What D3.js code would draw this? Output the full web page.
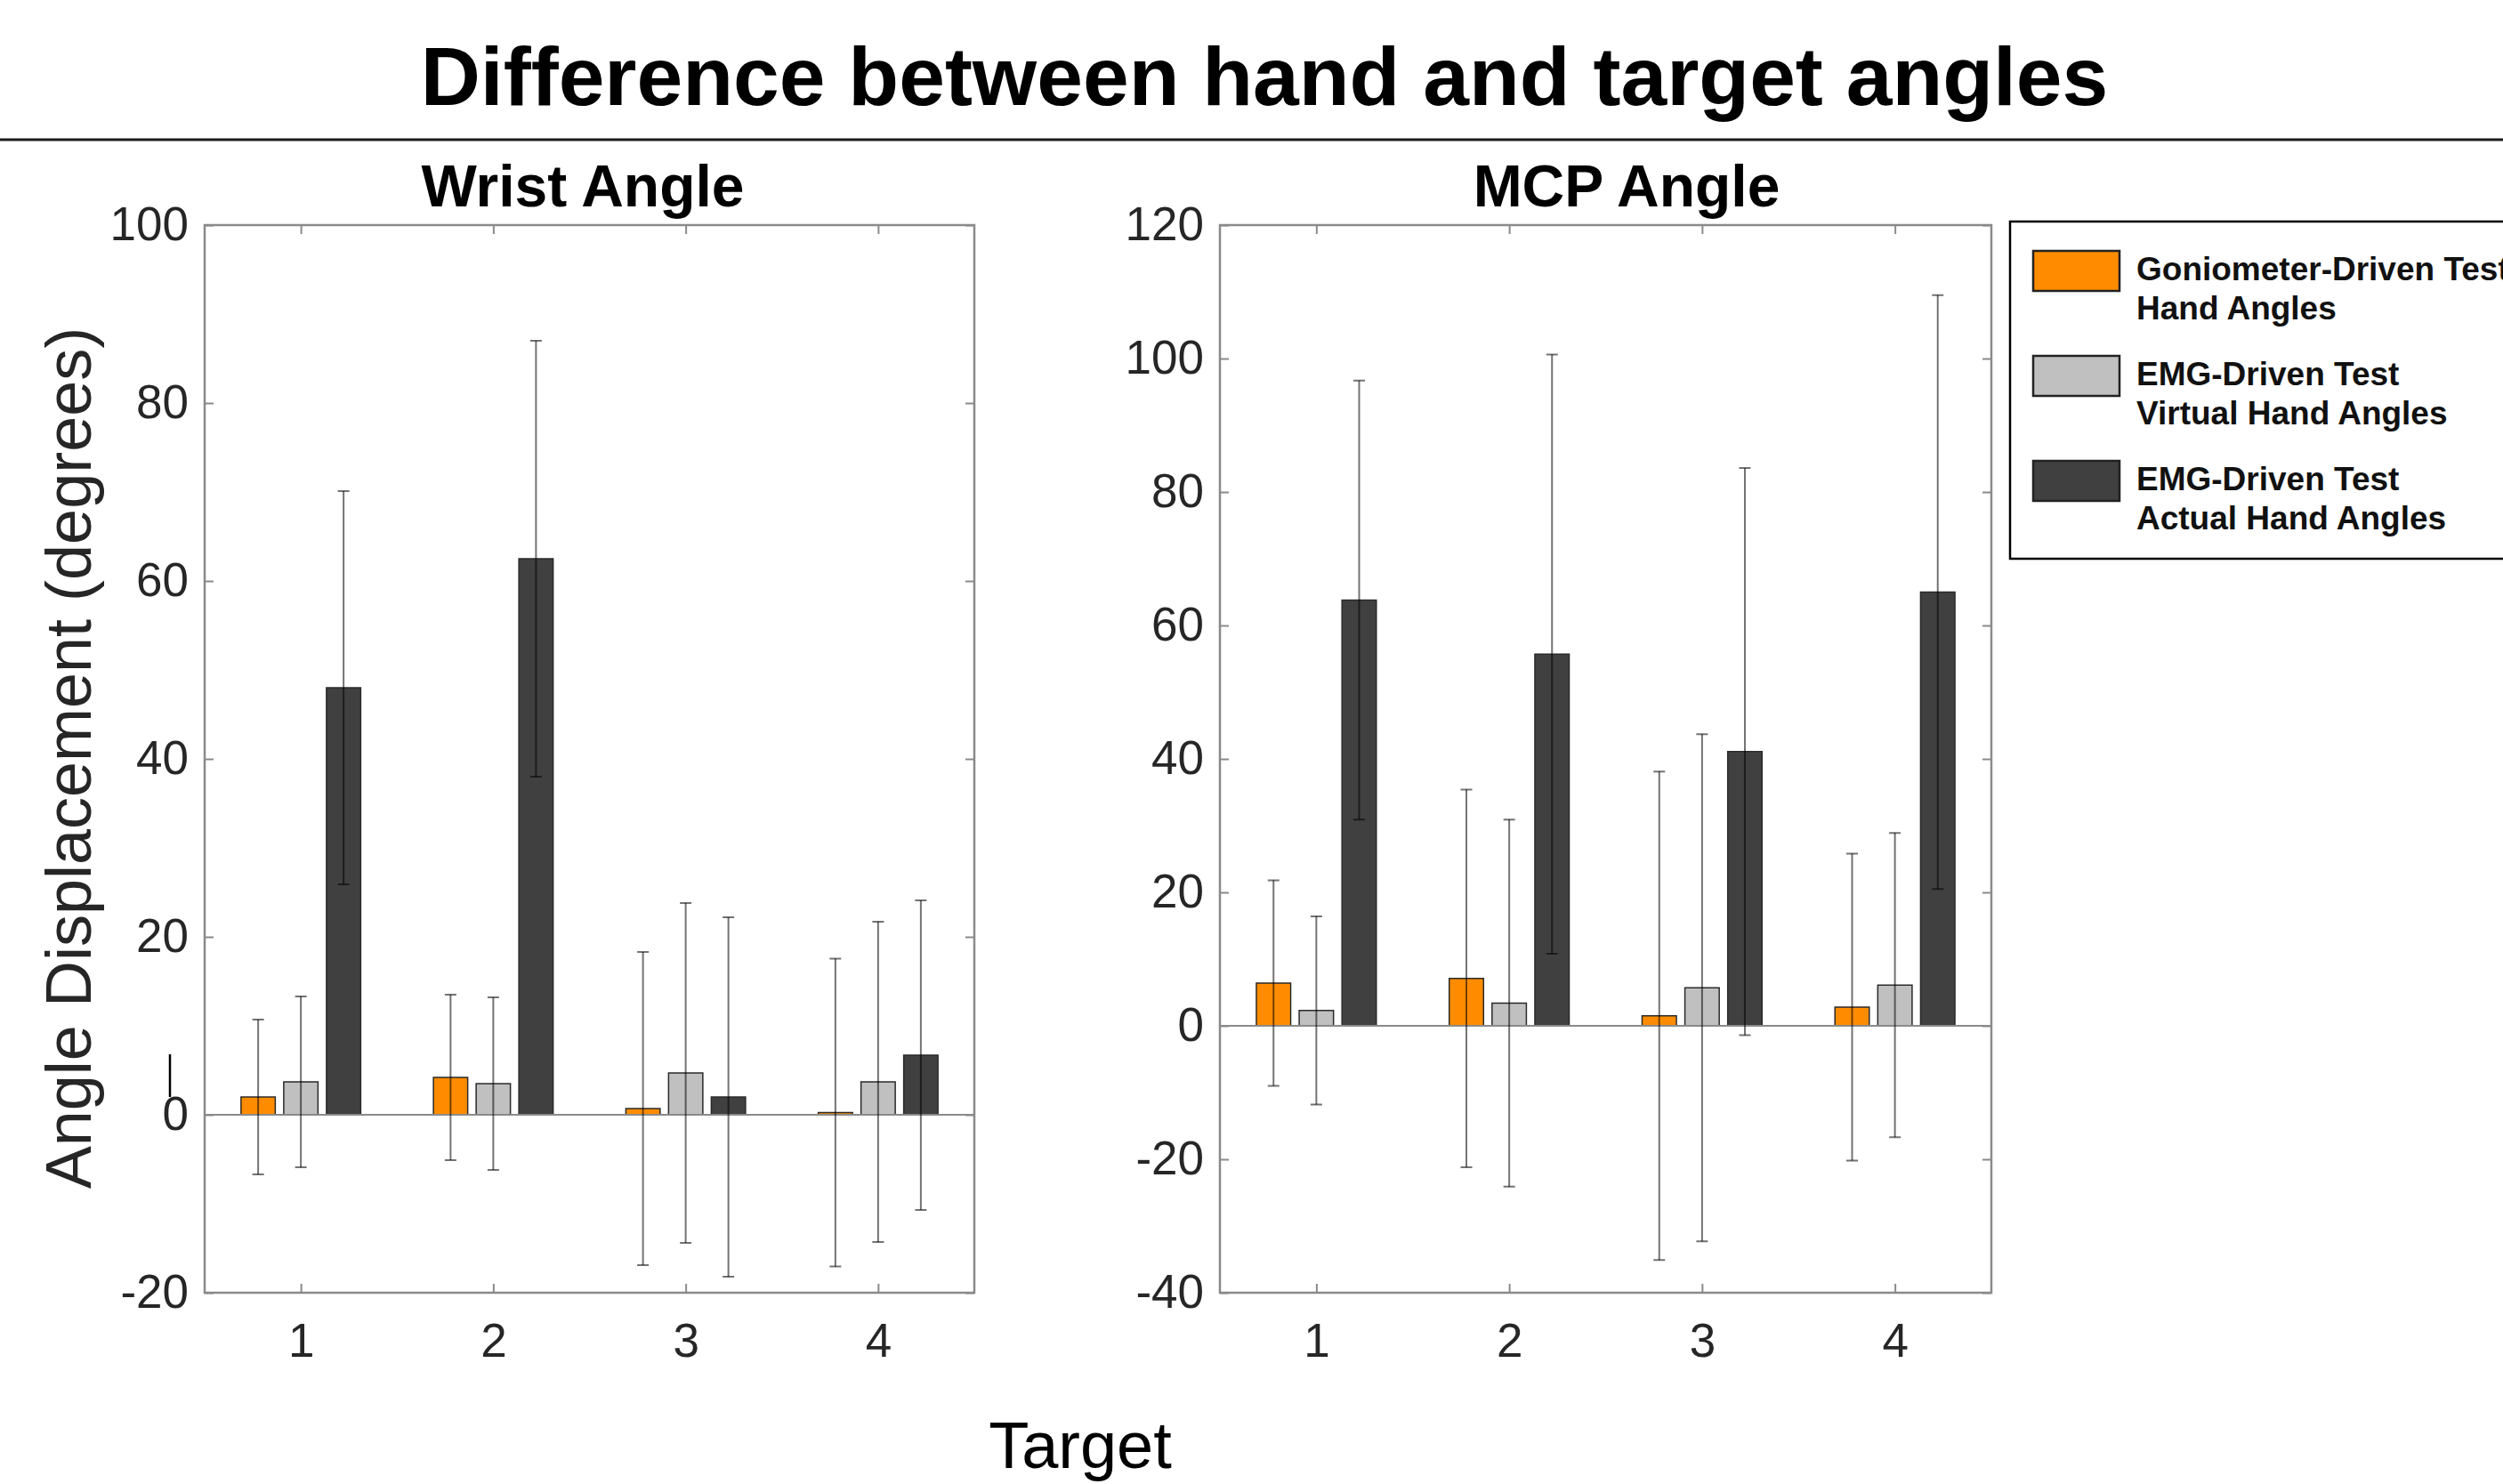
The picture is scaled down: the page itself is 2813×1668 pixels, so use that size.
<!DOCTYPE html>
<html>
<head>
<meta charset="utf-8">
<script src="https://cdn.jsdelivr.net/npm/d3@7"></script>
<style>
	body { margin: 0; background: #fff; }
	text { font-family: "Liberation Sans", Arial, Helvetica, sans-serif; }
</style>
</head>
<body>
<div id="chart"></div>
<script>
// ---- data ---- //
var targets = [1, 2, 3, 4];

var legendLines = [
	["Goniometer-Driven Test", "Hand Angles"],
	["EMG-Driven Test", "Virtual Hand Angles"],
	["EMG-Driven Test", "Actual Hand Angles"]
];

// wrist angle: mean and sd per target
var wristGonio = [2.0, 4.2, 0.7, 0.25];
var wristGonioSd = [8.7, 9.3, 17.6, 17.3];
var wristVirtual = [3.7, 3.5, 4.7, 3.7];
var wristVirtualSd = [9.6, 9.7, 19.1, 18.0];
var wristActual = [48.0, 62.5, 2.0, 6.7];
var wristActualSd = [22.1, 24.5, 20.2, 17.4];

// mcp angle: mean and sd per target
var mcpGonio = [6.4, 7.1, 1.5, 2.8];
var mcpGonioSd = [15.4, 28.3, 36.6, 23.0];
var mcpVirtual = [2.3, 3.4, 5.7, 6.1];
var mcpVirtualSd = [14.1, 27.5, 38.0, 22.8];
var mcpActual = [63.8, 55.7, 41.1, 65.0];
var mcpActualSd = [32.9, 44.9, 42.5, 44.5];

var wristTicks = [-20, 0, 20, 40, 60, 80, 100];
var mcpTicks = [-40, -20, 0, 20, 40, 60, 80, 100, 120];

// ---- style ---- //
var barColors = ["#ff8c00", "#c0c0c0", "#404040"];
var axisColor = "#8a8a8a";
var textColor = "#262626";

var width = 2813, height = 1668;
var plotTop = 253, plotBottom = 1453;

// MATLAB grouped bars: 3 bars, offsets +-0.222, width 0.178 (in x units)
var groupOffset = 0.222, barWidth = 0.178;

// plain "-20" with a hyphen, like MATLAB
var plainFormat = function(d){ return String(d); };

var svg = d3.select("#chart").append("svg")
		.attr("width", width)
		.attr("height", height);

// main title and the rule under it
svg.append("text")
	.attr("x", 1421)
	.attr("y", 118)
	.attr("text-anchor", "middle")
	.style("font-size", "93px")
	.style("font-weight", "bold")
	.attr("fill", "#000")
	.text("Difference between hand and target angles");

svg.append("line")
	.attr("x1", 0).attr("x2", width)
	.attr("y1", 157).attr("y2", 157)
	.attr("stroke", "#1a1a1a")
	.attr("stroke-width", 3);

function drawPanel(p){
	var x = d3.scaleLinear().domain([0.5, 4.5]).range([p.left, p.right]);
	var y = d3.scaleLinear().domain([p.ticks[0], p.ticks[p.ticks.length - 1]]).range([plotBottom, plotTop]);

	var g = svg.append("g");

	// panel title
	g.append("text")
		.attr("x", p.titleX)
		.attr("y", 232)
		.attr("text-anchor", "middle")
		.style("font-size", "66px")
		.style("font-weight", "bold")
		.attr("fill", "#000")
		.text(p.title);

	// bars
	p.means.forEach(function(series, s){
		var off = (s - 1) * groupOffset;
		g.append("g").selectAll("rect")
			.data(series)
			.join("rect")
				.attr("x", function(d, i){ return x(targets[i] + off - barWidth / 2); })
				.attr("width", x(barWidth) - x(0))
				.attr("y", function(d){ return y(Math.max(d, 0)); })
				.attr("height", function(d){ return Math.abs(y(d) - y(0)); })
				.attr("fill", barColors[s])
				.attr("stroke", "#2a2a2a")
				.attr("stroke-width", 1.5);
	});

	// zero baseline
	g.append("line")
		.attr("x1", p.left).attr("x2", p.right)
		.attr("y1", y(0)).attr("y2", y(0))
		.attr("stroke", axisColor)
		.attr("stroke-width", 2);

	// error bars (semi transparent black, darker over the dark bars)
	p.means.forEach(function(series, s){
		var off = (s - 1) * groupOffset;
		var eg = g.append("g")
			.attr("stroke", "#000")
			.attr("stroke-opacity", 0.55)
			.attr("stroke-width", 2);
		series.forEach(function(m, i){
			var sd = p.sds[s][i];
			var cx = x(targets[i] + off);
			eg.append("line")
				.attr("x1", cx).attr("x2", cx)
				.attr("y1", y(m - sd)).attr("y2", y(m + sd));
			[m - sd, m + sd].forEach(function(v){
				eg.append("line")
					.attr("x1", cx - 6.5).attr("x2", cx + 6.5)
					.attr("y1", y(v)).attr("y2", y(v));
			});
		});
	});

	// axes, ticks inside on all four sides
	var left = g.append("g")
		.attr("transform", "translate(" + p.left + ",0)")
		.call(d3.axisLeft(y).tickValues(p.ticks).tickFormat(plainFormat)
			.tickSizeInner(-10).tickSizeOuter(0).tickPadding(18));
	var right = g.append("g")
		.attr("transform", "translate(" + p.right + ",0)")
		.call(d3.axisRight(y).tickValues(p.ticks).tickSizeInner(-10).tickSizeOuter(0).tickFormat(""));
	var bottom = g.append("g")
		.attr("transform", "translate(0," + plotBottom + ")")
		.call(d3.axisBottom(x).tickValues(targets).tickFormat(plainFormat)
			.tickSizeInner(-10).tickSizeOuter(0).tickPadding(34));
	var top = g.append("g")
		.attr("transform", "translate(0," + plotTop + ")")
		.call(d3.axisTop(x).tickValues(targets).tickSizeInner(-10).tickSizeOuter(0).tickFormat(""));

	[left, right, bottom, top].forEach(function(a){
		a.select(".domain").remove();
		a.selectAll(".tick line").attr("stroke", axisColor).attr("stroke-width", 2);
		a.selectAll(".tick text")
			.attr("fill", textColor)
			.style("font-size", "53px");
	});

	// box
	g.append("rect")
		.attr("x", p.left).attr("y", plotTop)
		.attr("width", p.right - p.left)
		.attr("height", plotBottom - plotTop)
		.attr("fill", "none")
		.attr("stroke", axisColor)
		.attr("stroke-width", 2.5);

	return y;
}

var wristY = drawPanel({
	title: "Wrist Angle", titleX: 655,
	left: 230, right: 1095,
	ticks: wristTicks,
	means: [wristGonio, wristVirtual, wristActual],
	sds: [wristGonioSd, wristVirtualSd, wristActualSd]
});

drawPanel({
	title: "MCP Angle", titleX: 1828,
	left: 1371, right: 2238,
	ticks: mcpTicks,
	means: [mcpGonio, mcpVirtual, mcpActual],
	sds: [mcpGonioSd, mcpVirtualSd, mcpActualSd]
});

// stray little mark left of the wrist "0" label (it is in the original)
svg.append("line")
	.attr("x1", 191).attr("x2", 191)
	.attr("y1", wristY(6.8)).attr("y2", wristY(2.0))
	.attr("stroke", "#000")
	.attr("stroke-width", 2.5);

// shared axis labels
svg.append("text")
	.attr("transform", "translate(102,852) rotate(-90)")
	.attr("text-anchor", "middle")
	.style("font-size", "72px")
	.attr("fill", textColor)
	.text("Angle Displacement (degrees)");

svg.append("text")
	.attr("x", 1214)
	.attr("y", 1650)
	.attr("text-anchor", "middle")
	.style("font-size", "74px")
	.attr("fill", "#000")
	.text("Target");

// legend (runs past the right edge, like the original)
var legend = svg.append("g");
legend.append("rect")
	.attr("x", 2259).attr("y", 249)
	.attr("width", 620).attr("height", 379)
	.attr("fill", "#fff")
	.attr("stroke", "#000")
	.attr("stroke-width", 2.5);

legendLines.forEach(function(lines, i){
	var top = 282 + i * 118;
	legend.append("rect")
		.attr("x", 2285).attr("y", top)
		.attr("width", 97).attr("height", 45)
		.attr("fill", barColors[i])
		.attr("stroke", "#222")
		.attr("stroke-width", 2.5);
	lines.forEach(function(t, j){
		legend.append("text")
			.attr("x", 2401)
			.attr("y", top + 33 + j * 44)
			.style("font-size", "37px")
			.style("font-weight", "bold")
			.attr("fill", "#111")
			.text(t);
	});
});
</script>
</body>
</html>
